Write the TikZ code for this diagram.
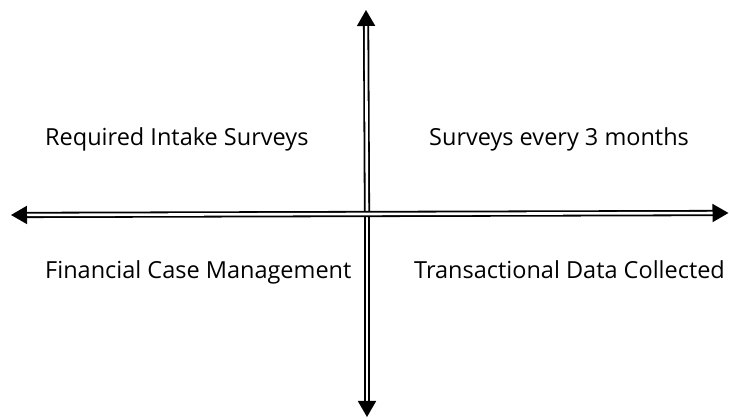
\documentclass[tikz,border=0pt]{standalone}
\usepackage{fontspec}
\setmainfont{Open Sans}
\usetikzlibrary{arrows.meta}
\begin{document}
\begin{tikzpicture}[x=1pt,y=1pt,
  axis/.style={double, double distance=2.6pt, line width=1.8pt, -{Triangle[length=16pt,width=18pt]}},
  lbl/.style={anchor=base west, inner sep=0pt, font=\fontsize{23.5}{27}\selectfont}]
\useasboundingbox (0,0) rectangle (729,419);
\coordinate (c) at (367,205);
\coordinate (top) at (366,409);
\coordinate (bot) at (367,2);
\coordinate (lft) at (11,204);
\coordinate (rgt) at (728.5,206);
\draw[axis] (c) -- (top);
\draw[axis] (c) -- (bot);
\draw[axis] (c) -- (lft);
\draw[axis] (c) -- (rgt);
\node[lbl] (tl) at (45,273) {Required Intake Surveys};
\node[lbl] (tr) at (429,273) {Surveys every 3 months};
\node[lbl] (bl) at (45,140) {Financial Case Management};
\node[lbl] (br) at (414,140) {Transactional Data Collected};
\end{tikzpicture}
\end{document}
